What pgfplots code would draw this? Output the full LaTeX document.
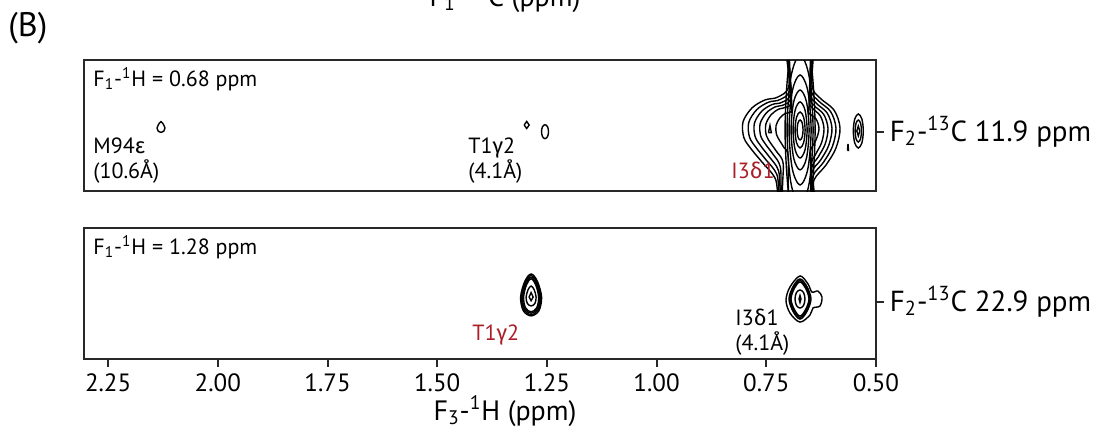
\documentclass[border=0pt]{standalone}
\usepackage{pgfplots}
\pgfplotsset{compat=1.18}
\usepackage{fontspec}
\setmainfont{PT Sans}
\newfontfamily\grk{Fira Sans}
\definecolor{lblred}{RGB}{170,30,40}
\definecolor{framec}{RGB}{40,40,40}
\newcommand\fA{\fontsize{11}{13}\selectfont}
\newcommand\fB{\fontsize{14.5}{16}\selectfont}
\newcommand\fX{\fontsize{14}{16}\selectfont}
\newcommand\fP{\fontsize{17}{19}\selectfont}
\newcommand\fT{\fontsize{12.5}{14}\selectfont}
\pgfplotsset{
  panel/.style={
    anchor=north west, scale only axis,
    width=396pt, height=65.5pt,
    xmin=0.5, xmax=2.305, x dir=reverse, ymin=0, ymax=1,
    axis line style={framec, line width=1pt},
    tick style={framec, line width=1pt},
    tick align=outside,
    ytick pos=right, xtick pos=bottom,
    y tick label style={anchor=west, font=\fB, inner sep=1pt, xshift=2pt},
    x tick label style={font=\fT},
    major tick length=3.8pt,
    /pgf/number format/assume math mode=true,
  },
  cnt/.style={black, line width=0.7pt, smooth cycle, tension=0.55},
  dia/.style={black, line width=0.7pt, sharp plot},
}
\begin{document}
\begin{tikzpicture}
% ---------------- top panel ----------------
\begin{axis}[panel, at={(42pt,-30pt)}, xtick=\empty,
  ytick={0.453}, yticklabels={F\textsubscript{2}-\textsuperscript{13}C 11.9 ppm}]
% M94 epsilon
\addplot[cnt] coordinates {(2.1386,0.481)(2.1359,0.503)(2.1295,0.530)(2.1231,0.503)(2.1204,0.481)(2.1231,0.457)(2.1295,0.447)(2.1359,0.457)};
% T1 gamma2 (weak)
\addplot[dia] coordinates {(1.3018,0.504)(1.2961,0.531)(1.2904,0.504)(1.2961,0.477)(1.3018,0.504)};
\addplot[cnt] coordinates {(1.2623,0.453)(1.2600,0.491)(1.2543,0.506)(1.2486,0.491)(1.2463,0.453)(1.2486,0.415)(1.2543,0.400)(1.2600,0.415)};
% I3 delta1 broad contours
\addplot[cnt] coordinates {(0.7028,1.153)(0.6983,0.809)(0.7233,0.718)(0.7530,0.695)(0.7826,0.634)(0.8031,0.527)(0.8008,0.405)(0.7826,0.313)(0.7598,0.221)(0.7300,0.099)(0.7150,-0.069)(0.6459,-0.069)(0.6413,0.084)(0.6140,0.198)(0.5912,0.328)(0.5820,0.481)(0.5957,0.618)(0.6276,0.710)(0.6459,0.809)(0.6459,1.153)};
\addplot[cnt] coordinates {(0.7013,1.153)(0.6965,0.784)(0.7183,0.699)(0.7450,0.678)(0.7717,0.621)(0.7901,0.522)(0.7881,0.410)(0.7717,0.325)(0.7512,0.240)(0.7260,0.127)(0.7130,-0.069)(0.6473,-0.069)(0.6437,0.113)(0.6199,0.218)(0.5994,0.339)(0.5912,0.480)(0.6035,0.607)(0.6322,0.692)(0.6480,0.784)(0.6473,1.153)};
\addplot[cnt] coordinates {(0.6999,1.153)(0.6946,0.758)(0.7133,0.679)(0.7370,0.660)(0.7607,0.608)(0.7771,0.517)(0.7753,0.414)(0.7607,0.336)(0.7425,0.258)(0.7220,0.154)(0.7110,-0.069)(0.6486,-0.069)(0.6461,0.141)(0.6258,0.238)(0.6076,0.349)(0.6003,0.479)(0.6112,0.595)(0.6367,0.673)(0.6500,0.758)(0.6486,1.153)};
\addplot[cnt] coordinates {(0.6984,1.153)(0.6940,0.732)(0.7083,0.661)(0.7291,0.643)(0.7498,0.596)(0.7641,0.513)(0.7626,0.419)(0.7498,0.348)(0.7339,0.277)(0.7179,0.182)(0.7100,-0.069)(0.6500,-0.069)(0.6469,0.170)(0.6318,0.259)(0.6158,0.359)(0.6094,0.478)(0.6190,0.584)(0.6413,0.655)(0.6507,0.732)(0.6500,1.153)};
\addplot[cnt] coordinates {(0.6969,1.153)(0.6933,0.706)(0.7033,0.642)(0.7211,0.626)(0.7388,0.583)(0.7511,0.508)(0.7498,0.423)(0.7388,0.359)(0.7252,0.295)(0.7115,0.209)(0.7090,-0.069)(0.6513,-0.069)(0.6477,0.198)(0.6377,0.279)(0.6240,0.369)(0.6185,0.476)(0.6267,0.573)(0.6459,0.637)(0.6513,0.706)(0.6513,1.153)};
\addplot[cnt] coordinates {(0.6954,1.153)(0.6920,0.655)(0.6943,0.604)(0.7067,0.592)(0.7191,0.558)(0.7278,0.499)(0.7268,0.432)(0.7191,0.382)(0.7096,0.331)(0.7000,0.264)(0.6960,-0.069)(0.6527,-0.069)(0.6493,0.256)(0.6483,0.319)(0.6367,0.390)(0.6299,0.474)(0.6367,0.550)(0.6541,0.600)(0.6527,0.655)(0.6527,1.153)};
% I3 delta1 central ridge
\addplot[cnt] coordinates {(0.7072,0.466)(0.6972,1.005)(0.673,1.229)(0.6488,1.005)(0.6388,0.466)(0.6488,-0.073)(0.673,-0.297)(0.6972,-0.073)};
\addplot[cnt] coordinates {(0.7026,0.466)(0.6939,0.870)(0.673,1.038)(0.6521,0.870)(0.6434,0.466)(0.6521,0.062)(0.673,-0.106)(0.6939,0.062)};
\addplot[cnt] coordinates {(0.6981,0.466)(0.6907,0.763)(0.673,0.886)(0.6553,0.763)(0.6479,0.466)(0.6553,0.169)(0.673,0.046)(0.6907,0.169)};
\addplot[cnt] coordinates {(0.6935,0.466)(0.6875,0.682)(0.673,0.771)(0.6585,0.682)(0.6525,0.466)(0.6585,0.250)(0.673,0.161)(0.6875,0.250)};
\addplot[cnt] coordinates {(0.6890,0.466)(0.6843,0.617)(0.673,0.680)(0.6617,0.617)(0.6570,0.466)(0.6617,0.315)(0.673,0.252)(0.6843,0.315)};
\addplot[cnt] coordinates {(0.6844,0.466)(0.6811,0.563)(0.673,0.603)(0.6649,0.563)(0.6616,0.466)(0.6649,0.369)(0.673,0.329)(0.6811,0.369)};
\addplot[cnt] coordinates {(0.6798,0.466)(0.6778,0.520)(0.673,0.542)(0.6682,0.520)(0.6662,0.466)(0.6682,0.412)(0.673,0.390)(0.6778,0.412)};
% small feature in the left shoulder
\addplot[dia] coordinates {(0.7450,0.445)(0.7385,0.445)(0.7416,0.500)(0.7450,0.445)};
% peak at 0.54 ppm
\addplot[cnt] coordinates {(0.5517,0.458)(0.5484,0.550)(0.5403,0.588)(0.5322,0.550)(0.5289,0.458)(0.5322,0.366)(0.5403,0.328)(0.5484,0.366)};
\addplot[cnt] coordinates {(0.5476,0.458)(0.5455,0.517)(0.5403,0.542)(0.5351,0.517)(0.5330,0.458)(0.5351,0.399)(0.5403,0.374)(0.5455,0.399)};
\addplot[dia] coordinates {(0.5437,0.458)(0.5403,0.496)(0.5369,0.458)(0.5403,0.420)(0.5437,0.458)};
\addplot[dia] coordinates {(0.5650,0.310)(0.5626,0.310)(0.5638,0.360)(0.5650,0.310)};
\end{axis}
% ---------------- bottom panel ----------------
\begin{axis}[panel, at={(42pt,-114pt)},
  xtick={0.5,0.75,1.0,1.25,1.5,1.75,2.0,2.25},
  xticklabels={0.50,0.75,1.00,1.25,1.50,1.75,2.00,2.25},
  ytick={0.437}, yticklabels={F\textsubscript{2}-\textsuperscript{13}C 22.9 ppm}]
% T1 gamma2
\addplot[cnt] coordinates {(1.3099,0.473)(1.3003,0.593)(1.286,0.649)(1.2717,0.593)(1.2621,0.473)(1.2681,0.369)(1.286,0.329)(1.3039,0.369)};
\addplot[cnt] coordinates {(1.3077,0.473)(1.2990,0.585)(1.286,0.637)(1.2730,0.585)(1.2643,0.473)(1.2697,0.376)(1.286,0.339)(1.3023,0.376)};
\addplot[cnt] coordinates {(1.3054,0.473)(1.2976,0.576)(1.286,0.624)(1.2744,0.576)(1.2666,0.473)(1.2714,0.384)(1.286,0.350)(1.3006,0.384)};
\addplot[cnt] coordinates {(1.3031,0.473)(1.2963,0.568)(1.286,0.612)(1.2757,0.568)(1.2689,0.473)(1.2732,0.391)(1.286,0.360)(1.2988,0.391)};
\addplot[cnt] coordinates {(1.2974,0.473)(1.2928,0.530)(1.286,0.557)(1.2792,0.530)(1.2746,0.473)(1.2774,0.424)(1.286,0.405)(1.2946,0.424)};
\addplot[dia] coordinates {(1.2906,0.473)(1.286,0.507)(1.2814,0.473)(1.286,0.445)(1.2906,0.473)};
% I3 delta1
\addplot[cnt] coordinates {(0.6732,0.634)(0.6550,0.573)(0.6459,0.511)(0.6322,0.519)(0.6231,0.473)(0.6276,0.405)(0.6436,0.389)(0.6504,0.336)(0.6732,0.282)(0.6960,0.351)(0.7051,0.450)(0.6960,0.550)};
\addplot[cnt] coordinates {(0.6983,0.458)(0.6883,0.557)(0.6732,0.611)(0.6581,0.557)(0.6481,0.458)(0.6581,0.359)(0.6732,0.305)(0.6883,0.359)};
\addplot[cnt] coordinates {(0.6960,0.458)(0.6869,0.550)(0.6732,0.599)(0.6595,0.550)(0.6504,0.458)(0.6595,0.366)(0.6732,0.317)(0.6869,0.366)};
\addplot[cnt] coordinates {(0.6937,0.458)(0.6855,0.543)(0.6732,0.588)(0.6609,0.543)(0.6527,0.458)(0.6609,0.374)(0.6732,0.328)(0.6855,0.374)};
\addplot[cnt] coordinates {(0.6846,0.458)(0.6813,0.507)(0.6732,0.527)(0.6651,0.507)(0.6618,0.458)(0.6651,0.409)(0.6732,0.389)(0.6813,0.409)};
\addplot[dia] coordinates {(0.6755,0.458)(0.6732,0.485)(0.6709,0.458)(0.6732,0.431)(0.6755,0.458)};
\end{axis}
% ---------------- texts ----------------
\node[anchor=base west, inner sep=0, font=\fP] at (4pt,-18pt) {(B)};
\node[anchor=base, inner sep=0, font=\fX] at (252.5pt,-3pt) {F\textsubscript{1}-\textsuperscript{13}C (ppm)};
\node[anchor=base, inner sep=0, font=\fX] at (252.5pt,-210pt) {F\textsubscript{3}-\textsuperscript{1}H (ppm)};
\node[anchor=base west, inner sep=0, font=\fA] at (46.5pt,-43pt) {F\textsubscript{1}-\textsuperscript{1}H = 0.68 ppm};
\node[anchor=base west, inner sep=0, font=\fA] at (46.5pt,-76.5pt) {M94{\grk ε}};
\node[anchor=base west, inner sep=0, font=\fA] at (46.5pt,-89pt) {(10.6Å)};
\node[anchor=base west, inner sep=0, font=\fA] at (234pt,-76.5pt) {T1{\grk γ}2};
\node[anchor=base west, inner sep=0, font=\fA] at (234pt,-89pt) {(4.1Å)};
\node[anchor=base west, inner sep=0, font=\fA, text=lblred] at (365.5pt,-89pt) {I3{\grk δ}1};
\node[anchor=base west, inner sep=0, font=\fA] at (46.5pt,-127pt) {F\textsubscript{1}-\textsuperscript{1}H = 1.28 ppm};
\node[anchor=base west, inner sep=0, font=\fA, text=lblred] at (236pt,-170pt) {T1{\grk γ}2};
\node[anchor=base west, inner sep=0, font=\fA] at (367.5pt,-162.5pt) {I3{\grk δ}1};
\node[anchor=base west, inner sep=0, font=\fA] at (367.5pt,-175pt) {(4.1Å)};
\pgfresetboundingbox
\path (0pt,0pt) rectangle (549.5pt,-218pt);
\end{tikzpicture}
\end{document}
